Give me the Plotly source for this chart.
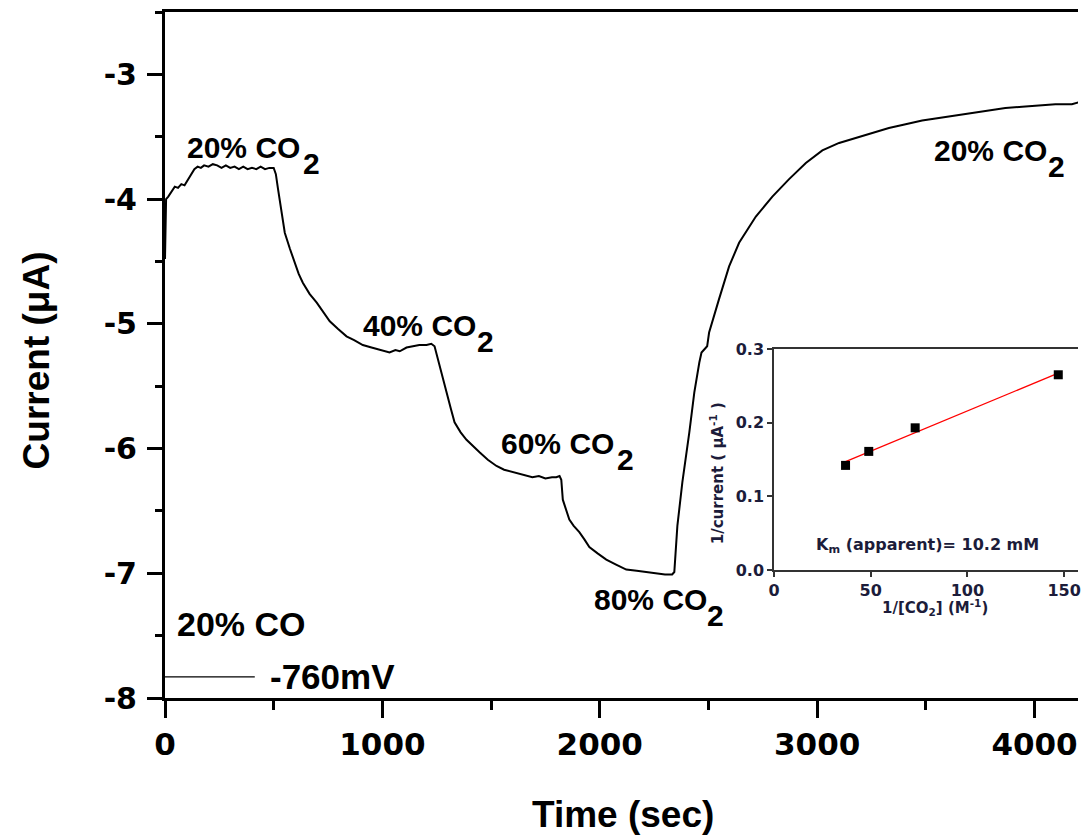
import numpy as np
import plotly.graph_objects as go

# ---------------- main trace ----------------
time_s = [0, 2, 5, 15, 30, 45, 60, 75, 90, 105, 120, 135, 150, 165, 180, 200, 220, 240, 260, 280,
          300, 320, 340, 360, 380, 400, 420, 440, 460, 480, 500, 510, 520, 535, 551, 575, 597, 615,
          634, 665, 698, 728, 758, 795, 835, 870, 910, 950, 990, 1033, 1060, 1080, 1111, 1140, 1170,
          1203, 1225, 1240, 1250, 1263, 1280, 1300, 1315, 1332, 1360, 1387, 1415, 1447, 1485, 1525,
          1560, 1600, 1645, 1690, 1720, 1750, 1780, 1800, 1815, 1823, 1830, 1845, 1860, 1880, 1906,
          1930, 1952, 1990, 2030, 2075, 2122, 2170, 2214, 2260, 2300, 2333, 2343, 2357, 2380, 2412,
          2435, 2458, 2468, 2494, 2503, 2549, 2595, 2641, 2718, 2794, 2871, 2948, 3024, 3101, 3178,
          3254, 3330, 3407, 3483, 3560, 3636, 3713, 3790, 3866, 3943, 4020, 4096, 4172, 4210]
current_uA = [-4.48, -4.10, -4.00, -3.98, -3.94, -3.90, -3.91, -3.88, -3.89, -3.85, -3.80, -3.76,
              -3.74, -3.75, -3.73, -3.74, -3.72, -3.73, -3.75, -3.73, -3.75, -3.74, -3.76, -3.74,
              -3.76, -3.75, -3.76, -3.74, -3.76, -3.75, -3.75, -3.80, -3.92, -4.08, -4.27, -4.40,
              -4.51, -4.60, -4.67, -4.76, -4.83, -4.91, -4.98, -5.04, -5.10, -5.13, -5.17, -5.19,
              -5.21, -5.23, -5.21, -5.22, -5.19, -5.18, -5.17, -5.17, -5.16, -5.18, -5.25, -5.34,
              -5.46, -5.58, -5.68, -5.79, -5.87, -5.93, -5.98, -6.03, -6.09, -6.14, -6.17, -6.19,
              -6.21, -6.23, -6.22, -6.24, -6.23, -6.23, -6.22, -6.25, -6.41, -6.50, -6.57, -6.62,
              -6.67, -6.73, -6.79, -6.84, -6.89, -6.93, -6.97, -6.98, -6.99, -7.00, -7.01, -7.01,
              -6.99, -6.62, -6.27, -5.87, -5.55, -5.31, -5.23, -5.18, -5.07, -4.80, -4.54, -4.35,
              -4.14, -3.98, -3.84, -3.71, -3.61, -3.55, -3.51, -3.47, -3.43, -3.40, -3.37, -3.35,
              -3.33, -3.31, -3.29, -3.27, -3.26, -3.25, -3.24, -3.24, -3.22]

# ---------------- inset (Lineweaver-Burk) ----------------
inv_co2 = [37, 49, 73, 147]
inv_current = [0.142, 0.161, 0.193, 0.265]

# ---------------- labels ----------------
step_text = ["20% CO", "40% CO", "60% CO", "80% CO", "20% CO"]
step_x = [92, 903, 1536, 1962, 3530]          # left edge of "xx% CO"
step_y = [-3.59, -5.01, -5.96, -7.21, -3.61]  # vertical centre of "CO"
sub_x = [625, 1427, 2069, 2482, 4054]          # left edge of the subscript "2"

x_ticks = [0, 1000, 2000, 3000, 4000]
y_ticks = [-8, -7, -6, -5, -4, -3]
inset_x_ticks = [0, 50, 100, 150]
inset_y_ticks = [0.0, 0.1, 0.2, 0.3]

FONT = "Liberation Sans"
WIDE = "DejaVu Sans"
W, H = 1081, 835
ML, MR, MT, MB = 165, 0, 12, 137
PW, PH = W - ML - MR, H - MT - MB
Y_PER_PX = 5.5 / PH


def px_x(p):
    return (p - ML) / PW


def px_y(p):
    return (H - MB - p) / PH


def bold(size, color="black", family=FONT):
    return dict(family=family, size=size, color=color, weight="bold")


fig = go.Figure()
fig.add_trace(go.Scatter(x=time_s, y=current_uA, mode="lines",
                         line=dict(color="black", width=2), showlegend=False,
                         xaxis="x", yaxis="y"))

slope, intercept = np.polyfit(inv_co2, inv_current, 1)
fit_x = [min(inv_co2), max(inv_co2)]
fit_y = [slope * v + intercept for v in fit_x]
fig.add_trace(go.Scatter(x=fit_x, y=fit_y, mode="lines", line=dict(color="red", width=1.3),
                         showlegend=False, xaxis="x2", yaxis="y2"))
fig.add_trace(go.Scatter(x=inv_co2, y=inv_current, mode="markers",
                         marker=dict(symbol="square", size=9, color="black"),
                         showlegend=False, xaxis="x2", yaxis="y2"))

annotations = []
for t, xv, yv, sx in zip(step_text, step_x, step_y, sub_x):
    annotations.append(dict(x=xv, y=yv, xref="x", yref="y", text=t, showarrow=False,
                            xanchor="left", yanchor="middle", font=bold(30)))
    annotations.append(dict(x=sx, y=yv - 16 * Y_PER_PX, xref="x", yref="y", text="2",
                            showarrow=False, xanchor="left", yanchor="middle", font=bold(30)))
annotations.append(dict(x=46, y=-7.406, xref="x", yref="y", text="20% CO", showarrow=False,
                        xanchor="left", yanchor="middle", font=bold(34)))
annotations.append(dict(x=472, y=-7.83, xref="x", yref="y", text="-760mV", showarrow=False,
                        xanchor="left", yanchor="middle", font=bold(35)))
# axis titles
annotations.append(dict(x=px_x(36), y=px_y(360), xref="paper", yref="paper",
                        text="Current (\u03bcA)", showarrow=False, textangle=-90,
                        xanchor="center", yanchor="middle", font=bold(37)))
annotations.append(dict(x=px_x(625), y=px_y(814), xref="paper", yref="paper",
                        text="Time (sec)", showarrow=False,
                        xanchor="center", yanchor="middle", font=bold(37)))
# inset texts
INK = "#1c1c3a"
annotations.append(dict(x=px_x(930), y=px_y(545), xref="paper", yref="paper",
                        text="K<sub>m</sub> (apparent)= 10.2 mM", showarrow=False,
                        xanchor="center", yanchor="middle", font=bold(16, INK, WIDE)))
annotations.append(dict(x=px_x(719), y=px_y(473), xref="paper", yref="paper",
                        text="1/current ( \u03bcA<sup>-1</sup> )", showarrow=False, textangle=-90,
                        xanchor="center", yanchor="middle", font=bold(15, INK, WIDE)))
annotations.append(dict(x=px_x(938), y=px_y(607), xref="paper", yref="paper",
                        text="1/[CO<sub>2</sub>] (M<sup>-1</sup>)", showarrow=False,
                        xanchor="center", yanchor="middle", font=bold(15, INK, WIDE)))

shapes = [dict(type="line", xref="x", yref="y", x0=0, x1=413, y0=-7.83, y1=-7.83,
               line=dict(color="black", width=1.3))]

fig.update_layout(
    width=W, height=H,
    margin=dict(l=ML, r=MR, t=MT, b=MB),
    paper_bgcolor="white", plot_bgcolor="rgba(0,0,0,0)",
    showlegend=False,
    annotations=annotations,
    shapes=shapes,
    xaxis=dict(domain=[0, 1], range=[0, 4200], tickvals=x_ticks,
               ticktext=[str(v) for v in x_ticks], ticks="outside",
               ticklen=17, tickwidth=3, tickcolor="black", showline=True, linewidth=3,
               linecolor="black", mirror=True, showgrid=False, zeroline=False,
               tickfont=bold(31, "black", WIDE), ticklabeloverflow="allow",
               minor=dict(dtick=500, ticks="outside", ticklen=9, tickwidth=3,
                          tickcolor="black", showgrid=False),
               ticklabelstandoff=0),
    yaxis=dict(domain=[0, 1], range=[-8, -2.5], tickvals=y_ticks,
               ticktext=[str(v) for v in y_ticks], ticks="outside",
               ticklen=15, tickwidth=3, tickcolor="black", showline=True, linewidth=3,
               linecolor="black", mirror=False, showgrid=False, zeroline=False,
               tickfont=bold(30, "black", WIDE), ticklabeloverflow="allow",
               minor=dict(dtick=0.5, ticks="outside", ticklen=7, tickwidth=3,
                          tickcolor="black", showgrid=False),
               ticklabelstandoff=4),
    xaxis2=dict(domain=[px_x(776), 1], range=[0, 157.2], anchor="y2",
                tickvals=inset_x_ticks, ticks="outside", ticklen=5, tickwidth=1.5,
                tickcolor="#333", showline=True, linewidth=1.5, linecolor="#333",
                mirror=True, showgrid=False, zeroline=False, ticklabeloverflow="allow",
                tickfont=bold(16, INK, WIDE)),
    yaxis2=dict(domain=[px_y(570), px_y(349)], range=[0, 0.3], anchor="x2",
                tickvals=inset_y_ticks, tickformat=".1f", ticks="outside", ticklen=5,
                tickwidth=1.5, tickcolor="#333", showline=True, linewidth=1.5,
                linecolor="#333", mirror=False, showgrid=False, zeroline=False,
                tickfont=bold(16, INK, WIDE)),
)

fig.write_html("out.html", config={"displayModeBar": False},
               post_script="document.body.style.margin='0px';document.body.style.overflow='hidden';")
